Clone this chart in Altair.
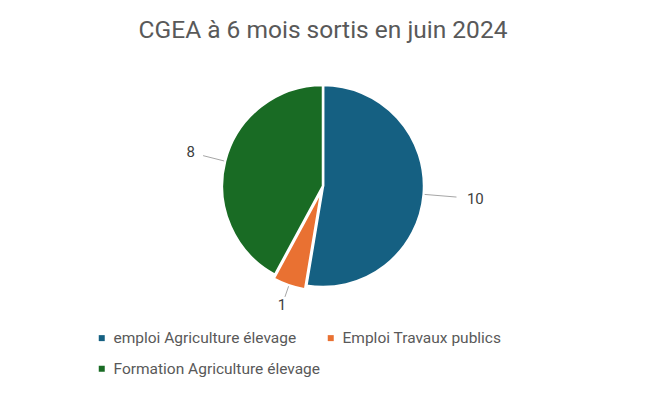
import altair as alt
import pandas as pd

categories = ["emploi Agriculture élevage", "Emploi Travaux publics", "Formation Agriculture élevage"]
values = [10, 1, 8]
colors = ["#156082", "#E97132", "#196B24"]
order = [0, 1, 2]

df = pd.DataFrame({"cat": categories, "value": values, "order": order})

W, H = 630, 260
R = 101
FONT = "Roboto"

xs = alt.Scale(domain=[-W / 2, W / 2], nice=False, zero=False)
ys = alt.Scale(domain=[-H / 2, H / 2], nice=False, zero=False)

base = (
    alt.Chart(df)
    .transform_joinaggregate(total="sum(value)")
    .transform_window(cum="sum(value)", sort=[alt.SortField("order")], frame=[None, 0])
    .transform_calculate(
        mid="(datum.cum - datum.value / 2) / datum.total * 2 * PI",
        ex="datum.cat == 'Emploi Travaux publics' ? 4 : 0",
        nch="length(toString(datum.value))",
    )
    .transform_calculate(
        rl=f"{R} + 20 + 16 * datum.nch * abs(sin(datum.mid))",
    )
    .transform_calculate(
        re="datum.rl - 7 - 6 * datum.nch * abs(sin(datum.mid))",
        cx="datum.ex * sin(datum.mid)",
        cy="datum.ex * cos(datum.mid)",
        lx1=f"({R} + datum.ex + 1) * sin(datum.mid)",
        ly1=f"({R} + datum.ex + 1) * cos(datum.mid)",
        tx="datum.rl * sin(datum.mid)",
        ty="datum.rl * cos(datum.mid)",
    )
    .transform_calculate(
        lx2="datum.re * sin(datum.mid)",
        ly2="datum.re * cos(datum.mid)",
    )
)

pie = base.mark_arc(outerRadius=R, stroke="white", strokeWidth=2.5).encode(
    theta=alt.Theta("value:Q", stack=True),
    order=alt.Order("order:Q"),
    x=alt.X("cx:Q", scale=xs, axis=None),
    y=alt.Y("cy:Q", scale=ys, axis=None),
    color=alt.Color(
        "cat:N",
        scale=alt.Scale(domain=categories, range=colors),
        sort=categories,
        legend=alt.Legend(
            orient="none",
            direction="horizontal",
            legendX=86,
            legendY=274,
            columns=2,
            title=None,
            symbolType="square",
            symbolSize=36,
            symbolStrokeWidth=0,
            labelFontSize=15.5,
            labelFont=FONT,
            labelColor="#595959",
            labelOffset=4,
            labelLimit=400,
            rowPadding=14,
            columnPadding=2,
            padding=0,
        ),
    ),
)

lines = base.mark_rule(color="#a6a6a6", strokeWidth=1).encode(
    x=alt.X("lx1:Q", scale=xs, axis=None),
    y=alt.Y("ly1:Q", scale=ys, axis=None),
    x2="lx2:Q",
    y2="ly2:Q",
)

labels = base.mark_text(
    align="center", baseline="middle", fontSize=15, font=FONT, color="#404040"
).encode(
    x=alt.X("tx:Q", scale=xs, axis=None),
    y=alt.Y("ty:Q", scale=ys, axis=None),
    text="value:Q",
)

chart = (
    alt.layer(pie, lines, labels)
    .properties(
        width=W,
        height=H,
        padding={"left": 0, "top": 9, "right": 0, "bottom": 0},
        title=alt.Title(
            "CGEA à 6 mois sortis en juin 2024",
            fontSize=24.5,
            font=FONT,
            fontWeight="normal",
            color="#595959",
            anchor="middle",
            offset=13,
        ),
    )
    .configure_view(stroke=None)
)

chart.save("out.html", embed_options={"renderer": "svg", "actions": False})
